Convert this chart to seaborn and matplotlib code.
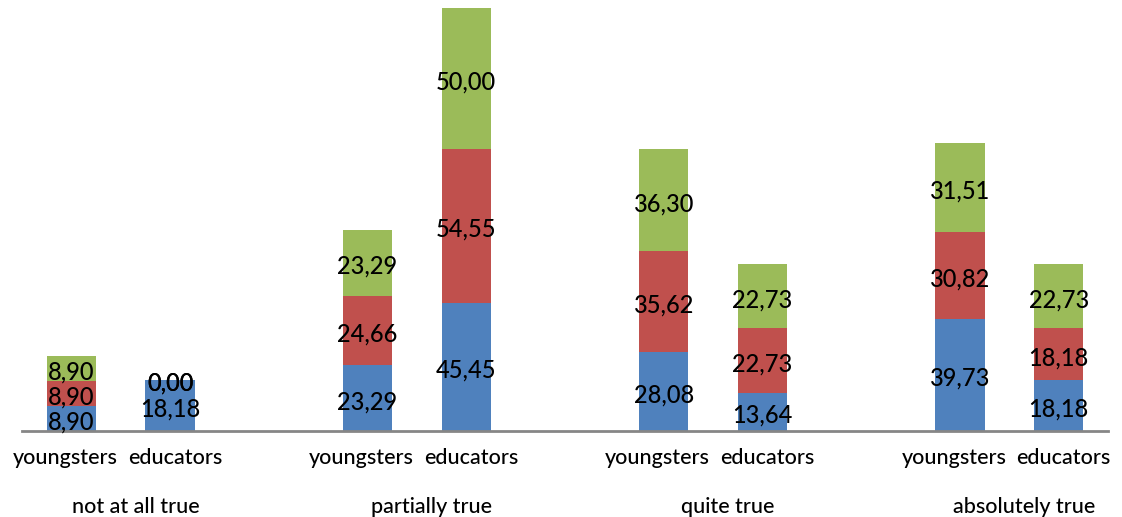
import numpy as np
import pandas as pd
import matplotlib
matplotlib.use("Agg")
import matplotlib.pyplot as plt
import matplotlib.transforms as mtransforms
import seaborn as sns

# Answer categories and respondent groups
groups = ["not at all true", "partially true", "quite true", "absolutely true"]
respondents = ["youngsters", "educators"]

# Stacked segment values (bottom, middle, top), ordered group by group,
# youngsters then educators
seg_bottom = [8.90, 18.18, 23.29, 45.45, 28.08, 13.64, 39.73, 18.18]
seg_middle = [8.90, 0.00, 24.66, 54.55, 35.62, 22.73, 30.82, 18.18]
seg_top = [8.90, 0.00, 23.29, 50.00, 36.30, 22.73, 31.51, 22.73]

colors = ["#4F81BD", "#C0504D", "#9BBB59"]

sns.set_theme(style="white")
plt.rcParams["font.family"] = ["Lato", "DejaVu Sans"]

# Category slots: two bars per group, one empty slot between groups
keys, order = [], []
for gi, g in enumerate(groups):
    for r in respondents:
        keys.append(f"{g}|{r}")
        order.append(f"{g}|{r}")
    if gi < len(groups) - 1:
        order.append(f"gap{gi}")

df = pd.DataFrame({
    "key": keys,
    "bottom": seg_bottom,
    "middle": seg_middle,
    "top": seg_top,
})
df["c1"] = df["bottom"]
df["c2"] = df["bottom"] + df["middle"]
df["c3"] = df["c2"] + df["top"]

fig = plt.figure(figsize=(11.22, 5.17), dpi=100)
ax = fig.add_axes([22 / 1122, 86 / 517, (1108 - 22) / 1122, 423 / 517])

# Draw cumulative totals tallest first so each layer shows as a stacked segment
for col, color in zip(["c3", "c2", "c1"], colors[::-1]):
    sns.barplot(data=df, x="key", y=col, order=order, color=color,
                width=0.5, saturation=1, linewidth=0, ax=ax, errorbar=None)

pos = {k: i for i, k in enumerate(order)}

def fmt(v):
    return f"{v:.2f}".replace(".", ",")

for _, row in df.iterrows():
    x = pos[row["key"]]
    starts = [0, row["c1"], row["c2"]]
    vals = [row["bottom"], row["middle"], row["top"]]
    for s, v in zip(starts, vals):
        ax.annotate(fmt(v), (x, s + v / 2), xytext=(0, -2.5),
                    textcoords="offset points", ha="center", va="center",
                    fontsize=17, color="black", fontweight="medium")

ax.set_xlim(-0.5, len(order) - 0.5)
ax.set_ylim(0, 150)
ax.set_xlabel("")
ax.set_ylabel("")
ax.set_yticks([])

for side in ["left", "right", "top"]:
    ax.spines[side].set_visible(False)
ax.spines["bottom"].set_color("#868686")
ax.spines["bottom"].set_linewidth(2)

bar_pos = [pos[k] for k in keys]
ax.set_xticks(bar_pos)
ax.set_xticklabels([k.split("|")[1] for k in keys], fontsize=15.5,
                   color="black", fontweight="medium")
ax.tick_params(axis="x", which="major", length=0, pad=12)

# Spread each pair of category labels slightly apart
for lbl, k in zip(ax.get_xticklabels(), keys):
    dx = -6 if k.endswith("youngsters") else 5
    lbl.set_transform(lbl.get_transform() +
                      mtransforms.ScaledTranslation(dx / 100, 0, fig.dpi_scale_trans))

boundaries = [-0.5, 2.5, 5.5, 8.5, len(order) - 0.5]
ax.set_xticks(boundaries, minor=True)
ax.tick_params(axis="x", which="minor", length=6, width=2, color="#868686")

for gi, g in enumerate(groups):
    mid = (pos[f"{g}|youngsters"] + pos[f"{g}|educators"]) / 2 + 0.15
    ax.text(mid, -0.18, g, transform=ax.get_xaxis_transform(),
            ha="center", va="center", fontsize=15.5, color="black",
            fontweight="medium")

fig.savefig("out.png", dpi=100)
